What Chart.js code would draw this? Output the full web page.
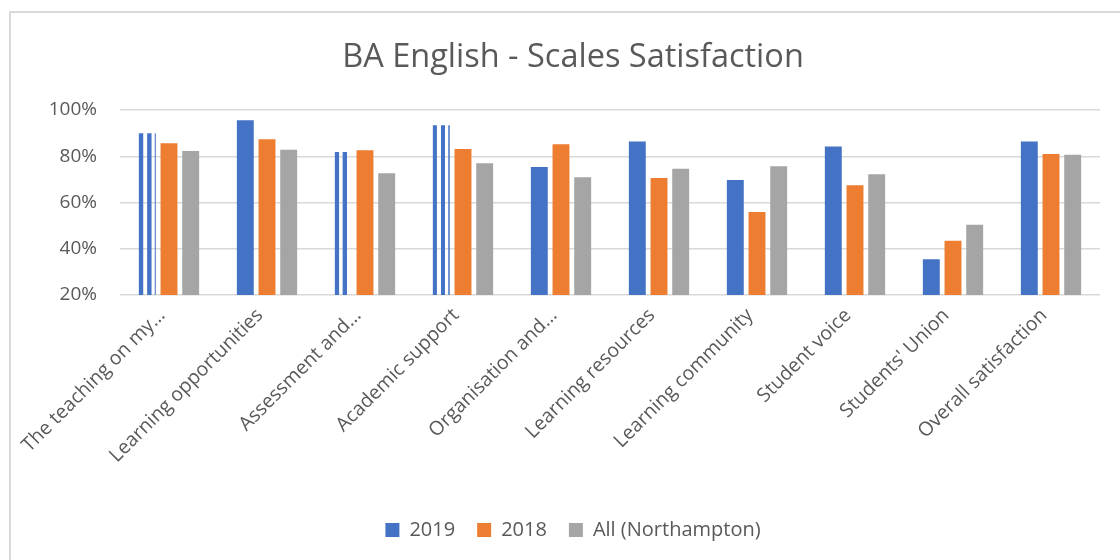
<!DOCTYPE html>
<html>
<head>
<meta charset="utf-8">
<script src="https://cdn.jsdelivr.net/npm/chart.js@4"></script>
<style>
  html, body { margin: 0; padding: 0; background: #fff; }
  #wrap { position: relative; width: 1120px; height: 560px; overflow: hidden; }
  #frame { position: absolute; left: 9px; top: 11px; width: 1200px; height: 600px;
           border-left: 2px solid #d9d9d9; border-top: 2px solid #d9d9d9; pointer-events: none; }
  canvas { position: absolute; left: 0; top: 0; }
</style>
</head>
<body>
<div id="wrap">
  <canvas id="c" width="1120" height="560"></canvas>
  <div id="frame"></div>
</div>
<script>
const categories = ["The teaching on my\u2026", "Learning opportunities", "Assessment and\u2026", "Academic support",
  "Organisation and\u2026", "Learning resources", "Learning community", "Student voice", "Students' Union", "Overall satisfaction"];
const values2019 = [90, 95.6, 81.8, 93.4, 75.4, 86.4, 69.7, 84.2, 35.5, 86.4];
const values2018 = [85.6, 87.4, 82.6, 83.1, 85.2, 70.6, 55.9, 67.5, 43.5, 81.0];
const valuesAll  = [82.3, 82.8, 72.6, 77.0, 70.9, 74.6, 75.7, 72.2, 50.4, 80.6];
const seriesNames = ["2019", "2018", "All (Northampton)"];
const yTicks = [20, 40, 60, 80, 100];

// visual artefact of the reference: white gaps in some 2019 bars (fractions of bar width)
const stripeGaps = {
  0: [[0.26, 0.49], [0.75, 0.94]],
  2: [[0.25, 0.46], [0.72, 1.05]],
  3: [[0.24, 0.48], [0.72, 0.91]]
};

const stripePlugin = {
  id: 'stripes',
  beforeDatasetDraw(chart, args) {
    if (args.index !== 0) return;
    const ctx = chart.ctx;
    const meta = chart.getDatasetMeta(0);
    ctx.save();
    ctx.beginPath();
    ctx.rect(0, 0, chart.width, chart.height);
    Object.keys(stripeGaps).forEach(k => {
      const bar = meta.data[+k];
      if (!bar) return;
      const p = bar.getProps(['x', 'y', 'width', 'base'], true);
      const left = p.x - p.width / 2;
      stripeGaps[k].forEach(([a, b]) => {
        ctx.rect(left + a * p.width, p.y - 3, (b - a) * p.width, p.base - p.y + 6);
      });
    });
    ctx.clip('evenodd');
  },
  afterDatasetDraw(chart, args) {
    if (args.index !== 0) return;
    chart.ctx.restore();
  }
};

const textColor = '#595959';
const fontFamily = "'Open Sans', sans-serif";

new Chart(document.getElementById('c'), {
  type: 'bar',
  data: {
    labels: categories,
    datasets: [
      { label: seriesNames[0], data: values2019, backgroundColor: '#4472C4' },
      { label: seriesNames[1], data: values2018, backgroundColor: '#ED7D31' },
      { label: seriesNames[2], data: valuesAll, backgroundColor: '#A5A5A5' }
    ]
  },
  plugins: [stripePlugin],
  options: {
    responsive: false,
    animation: false,
    devicePixelRatio: 1,
    datasets: { bar: { categoryPercentage: 0.664, barPercentage: 0.78 } },
    layout: { padding: { left: 26, right: 0, top: 0, bottom: 10 } },
    plugins: {
      title: {
        display: true,
        text: 'BA English - Scales Satisfaction',
        color: textColor,
        font: { family: fontFamily, size: 32.5, weight: 'normal' },
        padding: { top: 38, bottom: 33 }
      },
      legend: {
        display: true,
        position: 'bottom',
        labels: {
          color: textColor,
          font: { family: fontFamily, size: 20 },
          boxWidth: 14,
          boxHeight: 14,
          padding: 22
        }
      },
      tooltip: { enabled: false }
    },
    scales: {
      x: {
        grid: { display: false },
        border: { display: false },
        ticks: {
          color: textColor,
          font: { family: fontFamily, size: 19.5 },
          maxRotation: 45,
          minRotation: 45,
          autoSkip: false,
          padding: 1,
          labelOffset: -7
        },
        afterFit(scale) { scale.height = 203; }
      },
      y: {
        min: 20,
        max: 100,
        border: { display: false },
        grid: { color: '#d9d9d9', lineWidth: 1.5, drawTicks: false },
        afterBuildTicks(scale) { scale.ticks = yTicks.map(v => ({ value: v })); },
        ticks: {
          color: textColor,
          font: { family: fontFamily, size: 19 },
          padding: 23,
          callback: v => v + '%'
        },
        afterFit(scale) { scale.width = 94; }
      },
      yRightSpace: {
        type: 'linear',
        position: 'right',
        display: true,
        grid: { display: false, drawTicks: false },
        border: { display: false },
        ticks: { display: false },
        afterFit(scale) { scale.width = 20; }
      }
    }
  }
});
</script>
</body>
</html>
